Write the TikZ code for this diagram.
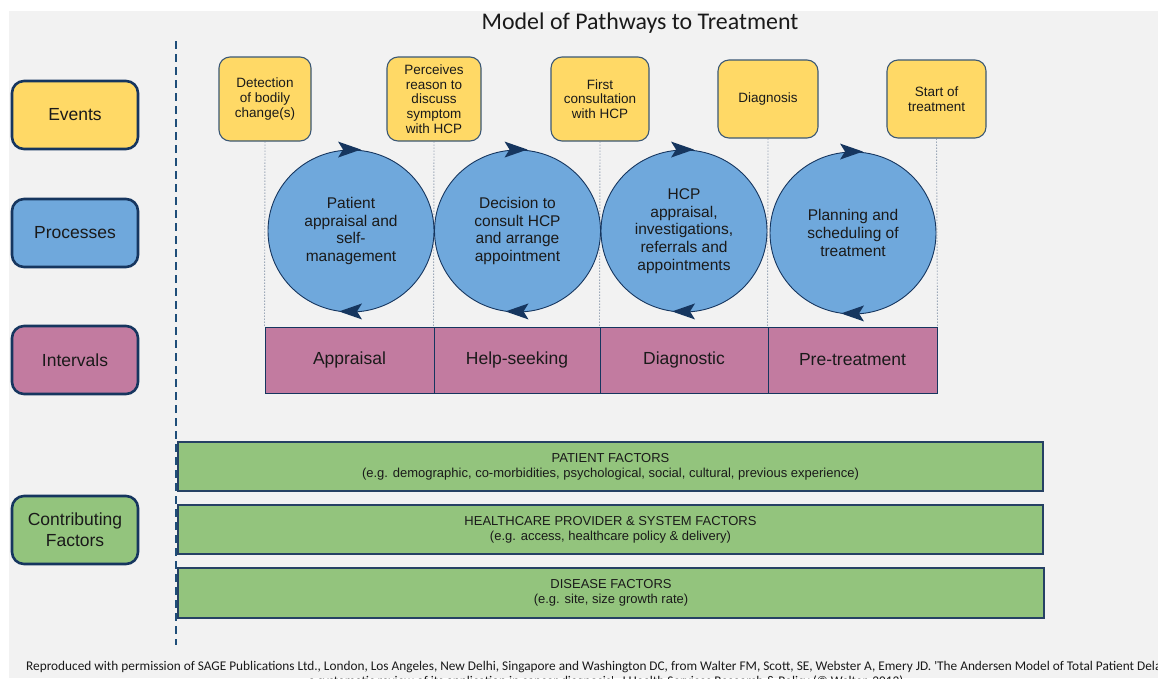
\documentclass[tikz,border=0pt]{standalone}
\usepackage{fontspec}
\setmainfont{Liberation Sans}
\newfontfamily\calib{Carlito}
\usetikzlibrary{shapes.geometric,calc}
\definecolor{bggray}{HTML}{F2F2F2}
\definecolor{navy}{HTML}{16365F}
\definecolor{evborder}{HTML}{3B5875}
\definecolor{evyellow}{HTML}{FFD966}
\definecolor{procblue}{HTML}{6FA8DC}
\definecolor{intpink}{HTML}{C27BA0}
\definecolor{factgreen}{HTML}{93C47D}
\definecolor{guidegray}{HTML}{6F819A}
\definecolor{dashblue}{HTML}{1F4E79}
\definecolor{ink}{HTML}{1A1A1A}
\begin{document}
\begin{tikzpicture}[x=1pt,y=-1pt,
  labelbox/.style={draw=navy, line width=2.6, rounded corners=12, minimum width=126, minimum height=68, inner sep=0, align=center, text=ink, font=\fontsize{17.5}{21}\selectfont},
  eventbox/.style={draw=evborder, fill=evyellow, line width=1.1, rounded corners=11, inner sep=0, align=center, text=ink, font=\fontsize{13.5}{14.8}\selectfont},
  procell/.style={ellipse, draw=navy, line width=0.9, fill=procblue, minimum width=166, minimum height=162, inner sep=0, align=center, text=ink, font=\fontsize{15.5}{17.6}\selectfont},
  intbox/.style={draw=navy, line width=1, fill=intpink, minimum height=66, inner sep=0, text=ink, font=\fontsize{17.5}{20}\selectfont},
  factbox/.style={draw=navy!85!gray, line width=1.3, fill=factgreen, minimum width=865, minimum height=49, inner sep=0, align=center, text=ink, font=\fontsize{13}{15}\selectfont},
  guide/.style={draw=guidegray, line width=0.9, dash pattern=on 1pt off 2pt},
  spin/.style={fill=navy},
  foot/.style={inner sep=0, text=ink, font=\calib\fontsize{13.3}{15}\selectfont}
]
\useasboundingbox (0,0) rectangle (1158,678);
\clip (0,0) rectangle (1158,678);
\fill[white] (0,0) rectangle (1158,678);
\fill[bggray] (9,11) rectangle (1158,678);

% title
\node[anchor=base, font=\calib\fontsize{23.9}{26}\selectfont, text=ink, inner sep=0] (title) at (640,29) {Model of Pathways to Treatment};

% dashed separator
\coordinate (dtop) at (176,41);
\coordinate (dbot) at (176,645);
\draw[dashblue, line width=2, dash pattern=on 8pt off 5pt] (dtop) -- (dbot);

% left labels
\node[labelbox, fill=evyellow] (lev) at (75,115) {Events};
\node[labelbox, fill=procblue] (lpr) at (75,233) {Processes};
\node[labelbox, fill=intpink] (lin) at (75,360) {Intervals};
\node[labelbox, fill=factgreen] (lcf) at (75,530) {Contributing\\Factors};

% events
\node[eventbox, minimum width=92, minimum height=84] (e1) at (265,99) {Detection\\of bodily\\change(s)};
\node[eventbox, minimum width=94, minimum height=84] (e2) at (434,99) {Perceives\\reason to\\discuss\\symptom\\with HCP};
\node[eventbox, minimum width=98, minimum height=84] (e3) at (600,99) {First\\consultation\\with HCP};
\node[eventbox, minimum width=100, minimum height=78] (e4) at (768,99) {Diagnosis};
\node[eventbox, minimum width=99, minimum height=78] (e5) at (936.5,99) {Start of\\treatment};

% intervals
\node[intbox, minimum width=169] (i1) at (349.5,360) {Appraisal};
\node[intbox, minimum width=166] (i2) at (517,360) {Help-seeking};
\node[intbox, minimum width=168] (i3) at (684,360) {Diagnostic};
\node[intbox, minimum width=169] (i4) at (852.5,360) {Pre-treatment};

% guides
\draw[guide] (e1.south) -- (i1.north west);
\draw[guide] (e2.south) -- (i2.north west);
\draw[guide] (e3.south) -- (i3.north west);
\draw[guide] (e4.south) -- (i4.north west);
\draw[guide] (e5.south) -- (i4.north east);

% processes
\node[procell] (c1) at (351,231) {Patient\\appraisal and\\self-\\management};
\node[procell] (c2) at (517.5,231) {Decision to\\consult HCP\\and arrange\\appointment};
\node[procell] (c3) at (684,231) {HCP\\appraisal,\\investigations,\\referrals and\\appointments};
\node[procell] (c4) at (853,233) {Planning and\\scheduling of\\treatment};

\foreach \c in {c1,c2,c3,c4}{
  \fill[spin] ($(\c.north)+(10,0)$) -- ++(-23,-8) -- ++(5,8) -- ++(-5,8) -- cycle;
  \fill[spin] ($(\c.south)+(-12,-1)$) -- ++(23,-8) -- ++(-5,8) -- ++(5,8) -- cycle;
}

% factors
\node[factbox] (f1) at (610.5,466.5) {PATIENT FACTORS\\(e.g. demographic, co-morbidities, psychological, social, cultural, previous experience)};
\node[factbox] (f2) at (610.5,529.5) {HEALTHCARE PROVIDER \& SYSTEM FACTORS\\(e.g. access, healthcare policy \& delivery)};
\node[factbox, minimum width=866, minimum height=50] (f3) at (611,593) {DISEASE FACTORS\\(e.g. site, size growth rate)};

% footnote
\node[foot, anchor=base west] (fn1) at (26,670) {Reproduced with permission of SAGE Publications Ltd., London, Los Angeles, New Delhi, Singapore and Washington DC, from Walter FM, Scott, SE, Webster A, Emery JD. 'The Andersen Model of Total Patient Delay:};
\node[foot, anchor=base] (fn2) at (606,685) {a systematic review of its application in cancer diagnosis'. J Health Services Research \& Policy (© Walter, 2012)};
\end{tikzpicture}
\end{document}
